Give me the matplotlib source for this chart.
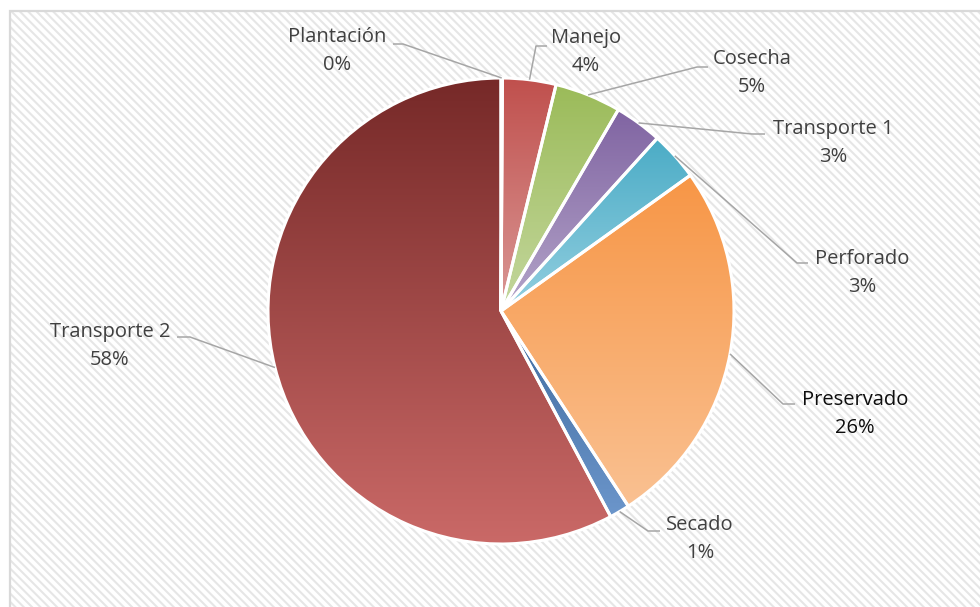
import numpy as np
import matplotlib.pyplot as plt
from matplotlib.patches import Rectangle
from matplotlib.colors import to_rgb

plt.rcParams['font.family'] = ['Open Sans', 'DejaVu Sans']
plt.rcParams['hatch.linewidth'] = 1.5

# data
categories = ['Plantación', 'Manejo', 'Cosecha', 'Transporte 1', 'Perforado',
              'Preservado', 'Secado', 'Transporte 2']
values = [0.1, 3.7, 4.6, 3.3, 3.4, 25.7, 1.4, 57.8]

# gradient colours per slice (top, bottom)
top_colors = ['#2C4D75', '#C0504D', '#9BBB59', '#8064A2', '#4BACC6', '#F79646', '#3F6A9E', '#762928']
bottom_colors = ['#5B87BD', '#DA9896', '#C4D79E', '#B4A5C9', '#93CFE0', '#FAC192', '#6C96CB', '#CA6967']

W, H = 980, 607
fig = plt.figure(figsize=(W / 100, H / 100), dpi=100)
ax = fig.add_axes([0, 0, 1, 1])
ax.axis('off')

def py(y):  # image row -> data y
    return H - y

# hatched chart area with light border
bg = Rectangle((10, -20), W + 20, py(11) + 20, facecolor='white', edgecolor='#E6E6E6',
               hatch='\\\\\\\\', lw=0, zorder=0)
ax.add_patch(bg)
frame = Rectangle((10, -20), W + 20, py(11) + 20, facecolor='none', edgecolor='#D9D9D9',
                  lw=1.6, zorder=0.5)
ax.add_patch(frame)

cx, cy, r = 501, py(311), 233
wedges, _ = ax.pie(values, startangle=90, counterclock=False, center=(cx, cy), radius=r,
                   wedgeprops=dict(edgecolor='white', linewidth=2.2))

for w, c1, c2 in zip(wedges, top_colors, bottom_colors):
    ext = w.get_path().get_extents()
    n = 256
    t = np.linspace(0, 1, n)[:, None]
    grad = (1 - t) * np.array(to_rgb(c1)) + t * np.array(to_rgb(c2))
    im = ax.imshow(grad[:, None, :], extent=[ext.x0, ext.x1, ext.y0, ext.y1],
                   origin='upper', aspect='auto', interpolation='bilinear', zorder=1)
    im.set_clip_path(w)
    w.set_facecolor('none')
    w.set_zorder(2)

ax.set_xlim(0, W)
ax.set_ylim(0, H)
ax.set_aspect('equal')

# label layout: text centre, elbow point, end of horizontal segment (image px)
text_pos = [(337, 51), (586, 52), (752, 73), (833, 143), (862, 273), (855, 414), (700, 539), (110, 346)]
elbows = [(403, 44), (536, 46), (697, 67), (752, 134), (797, 263), (783, 404), (648, 531), (190, 337)]
ends = [393, 547, 708, 765, 808, 795, 660, 177]
text_colors = ['#404040'] * 5 + ['#0D0D0D'] + ['#404040'] * 2

total = sum(values)
for w, name, v, tp, el, ex, tc in zip(wedges, categories, values, text_pos, elbows, ends, text_colors):
    ang = np.deg2rad((w.theta1 + w.theta2) / 2)
    sx, sy = cx + r * np.cos(ang), cy + r * np.sin(ang)
    ax.plot([sx, el[0], ex], [sy, py(el[1]), py(el[1])], color='#A6A6A6', lw=1.1,
            zorder=3, solid_capstyle='butt')
    ax.text(tp[0], py(tp[1]), f'{name}\n{v / total * 100:.0f}%', ha='center', va='center',
            fontsize=14.5, color=tc, linespacing=1.58, zorder=4)

fig.savefig('out.png', dpi=100)
